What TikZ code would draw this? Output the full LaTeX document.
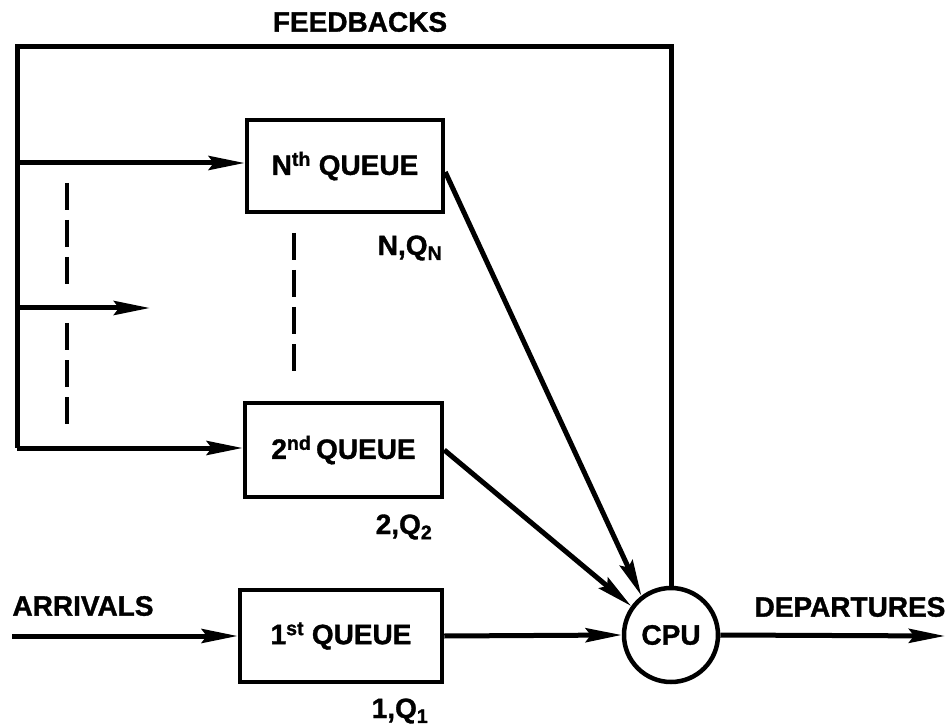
\documentclass[tikz,border=0pt]{standalone}
\usepackage{fontspec}
\setmainfont{Liberation Sans}[BoldFeatures={FakeBold=1.2}]
\usetikzlibrary{arrows.meta,shapes.geometric}

\tikzset{
  txt/.style={font=\fontsize{28}{30}\selectfont\bfseries},
  lbl/.style={txt, inner sep=0pt},
  queuebox/.style={txt, draw, line width=4.5pt, rectangle, inner sep=0pt},
  cpunode/.style={txt, draw, line width=4.5pt, circle, minimum size=94pt, inner sep=0pt},
  flow/.style={line width=5pt},
  arr/.style={flow, -{Stealth[length=36pt,width=14pt,inset=5pt]}},
  dots/.style={line width=4.5pt, dash pattern=on 27pt off 10pt}
}

\begin{document}
\begin{tikzpicture}[x=1pt, y=-1pt]
  \useasboundingbox (0,0) rectangle (945,727);

  % queues and the processor
  \node[queuebox, minimum width=196pt, minimum height=92pt] (qn) at (345,166) {N\textsuperscript{th} QUEUE};
  \node[queuebox, minimum width=197pt, minimum height=94pt] (q2) at (343.5,450) {2\textsuperscript{nd}\,QUEUE};
  \node[queuebox, minimum width=202pt, minimum height=92pt] (q1) at (341,636) {1\textsuperscript{st} QUEUE};
  \node[cpunode] (cpu) at (671,635) {CPU};

  % labels
  \node[lbl] (fbl) at (360,22) {FEEDBACKS};
  \node[lbl] (arl) at (83,606) {ARRIVALS};
  \node[lbl] (dpl) at (850,607) {DEPARTURES};
  \node[lbl] (ln) at (410,248) {N,Q\textsubscript{N}};
  \node[lbl] (l2) at (404,527) {2,Q\textsubscript{2}};
  \node[lbl] (l1) at (400,711) {1,Q\textsubscript{1}};

  % feedback loop
  \coordinate (fbTL) at (17,47);
  \coordinate (fbN) at (17,163);
  \coordinate (fbM) at (17,308);
  \coordinate (fbB) at (17,448);
  \coordinate (midTip) at (150,308);
  \coordinate (arrIn) at (12,636);
  \coordinate (depOut) at (945,636);

  \draw[flow, line join=miter] (cpu.north) -- (cpu.north |- fbTL) -- (fbTL) -- (fbB);
  \draw[arr] (fbN) -- (fbN -| qn.west);
  \draw[arr] (fbM) -- (midTip);
  \draw[arr] (fbB) -- (fbB -| q2.west);

  % arrivals and departures
  \draw[arr] (arrIn) -- (arrIn -| q1.west);
  \draw[arr] (cpu.east) -- (depOut);

  % queues to the processor
  \draw[arr] ([yshift=-6pt]qn.east) -- (cpu.127);
  \draw[arr] (q2.east) -- (cpu.144);
  \draw[arr] (q1.east) -- (cpu.west);

  % elided queues
  \coordinate (dA1) at (67,183);
  \coordinate (dA2) at (67,284);
  \coordinate (dB1) at (67,323);
  \coordinate (dB2) at (67,424);
  \coordinate (dC1) at (294,233);
  \coordinate (dC2) at (294,371);
  \draw[dots] (dA1) -- (dA2);
  \draw[dots] (dB1) -- (dB2);
  \draw[dots] (dC1) -- (dC2);
\end{tikzpicture}
\end{document}
